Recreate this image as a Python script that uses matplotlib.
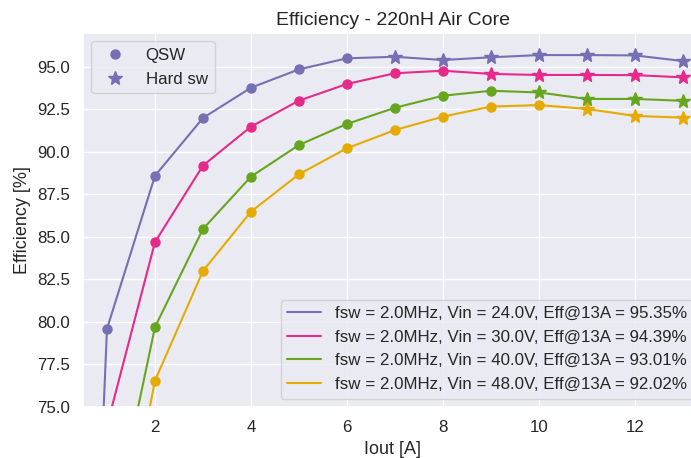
import matplotlib
matplotlib.use("Agg")
import matplotlib.pyplot as plt
from matplotlib.lines import Line2D
import seaborn as sns

# load current [A]; the first point sits below the plotted range
iout = [0.5, 1, 2, 3, 4, 5, 6, 7, 8, 9, 10, 11, 12, 13]

eff_24v = [46.0, 79.6, 88.6, 92.0, 93.78, 94.86, 95.51, 95.6, 95.41, 95.57, 95.7, 95.7, 95.68, 95.35]
eff_30v = [40.0, 73.9, 84.7, 89.2, 91.49, 93.02, 94.0, 94.63, 94.78, 94.59, 94.53, 94.53, 94.52, 94.39]
eff_40v = [30.0, 66.3, 79.7, 85.47, 88.55, 90.41, 91.65, 92.6, 93.31, 93.6, 93.5, 93.12, 93.12, 93.01]
eff_48v = [25.0, 62.0, 76.55, 83.0, 86.49, 88.69, 90.22, 91.29, 92.08, 92.67, 92.76, 92.53, 92.12, 92.02]

vin = [24.0, 30.0, 40.0, 48.0]
fsw = 2.0
# first current at which the converter leaves quasi-square-wave mode
hard_from = [7, 9, 10, 11]
colors = ["#7570b3", "#e7298a", "#66a61e", "#e6ab02"]

sns.set_theme(style="darkgrid")
plt.rcParams["font.family"] = ["Liberation Sans", "DejaVu Sans"]
plt.rcParams.update({
    "xtick.labelsize": 12.2,
    "ytick.labelsize": 12.2,
    "legend.fontsize": 12.2,
    "axes.labelsize": 13,
    "axes.titlesize": 14,
})

fig = plt.figure(figsize=(6.91, 4.58), dpi=100)
ax = fig.add_axes([0.1201, 0.1114, 0.896, 0.8166])

series = [eff_24v, eff_30v, eff_40v, eff_48v]
handles = []
for eff, v, h, c in zip(series, vin, hard_from, colors):
    label = f"fsw = {fsw:.1f}MHz, Vin = {v:.1f}V, Eff@13A = {eff[-1]:.2f}%"
    ln, = ax.plot(iout, eff, color=c, linewidth=1.5, label=label)
    handles.append(ln)
    qx = [x for x in iout if x < h]
    qy = [y for x, y in zip(iout, eff) if x < h]
    hx = [x for x in iout if x >= h]
    hy = [y for x, y in zip(iout, eff) if x >= h]
    ax.plot(qx, qy, "o", color=c, markersize=6.5)
    ax.plot(hx, hy, "*", color=c, markersize=10)

ax.set_xlim(0.5, 13.4)
ax.set_ylim(75, 97)
ax.set_xticks([2, 4, 6, 8, 10, 12])
ax.set_yticks([75, 77.5, 80, 82.5, 85, 87.5, 90, 92.5, 95])
ax.set_yticklabels([f"{t:.1f}" for t in ax.get_yticks()])

ax.set_xlabel("Iout [A]")
ax.set_ylabel("Efficiency [%]")
ax.set_title("Efficiency - 220nH Air Core")

mode_handles = [
    Line2D([], [], linestyle="none", marker="o", color=colors[0], markersize=6.5, label="QSW"),
    Line2D([], [], linestyle="none", marker="*", color=colors[0], markersize=10, label="Hard sw"),
]
leg1 = ax.legend(handles=mode_handles, loc="upper left")
ax.add_artist(leg1)
ax.legend(handles=handles, loc="lower right")

fig.savefig("out.png", dpi=100)
plt.close(fig)
